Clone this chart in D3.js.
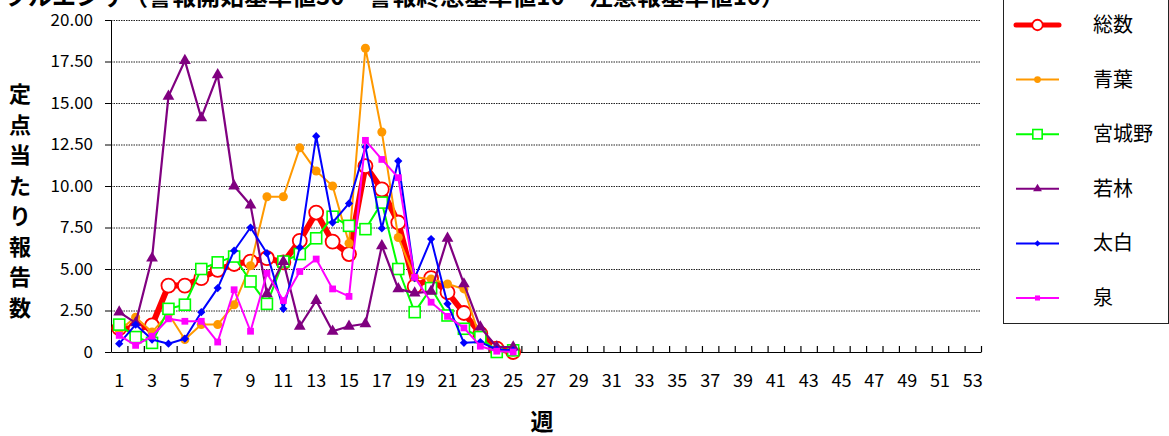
<!DOCTYPE html>
<html>
<head>
<meta charset="utf-8">
<script src="https://cdn.jsdelivr.net/npm/d3@7"></script>
<style>
body { margin: 0; background: #fff; }
svg { display: block; }
text { font-family: "Noto Sans CJK JP", "Noto Sans", sans-serif; fill: #000; }
</style>
</head>
<body>
<div id="graph"></div>
<script>
// weeks and tick labels
const weeks = d3.range(1, 54);
const weekLabels = weeks.filter(w => w % 2 == 1);
const yTicks = [0, 2.5, 5, 7.5, 10, 12.5, 15, 17.5, 20];

// values, weeks 1..25
const total    = [1.43, 1.4, 1.6, 4.0, 4.0, 4.45, 4.95, 5.3, 5.45, 5.65, 5.4, 6.7, 8.4, 6.65, 5.9, 11.2, 9.8, 7.8, 3.95, 4.45, 3.6, 2.35, 1.1, 0.2, 0.0];
const aoba     = [1.3, 2.1, 1.2, 2.3, 0.75, 1.65, 1.65, 2.85, 5.2, 9.35, 9.35, 12.3, 10.9, 10.0, 6.55, 18.3, 13.25, 6.9, 4.5, 4.4, 4.1, 3.8, 0.8, 0.1, 0.0];
const miyagino = [1.65, 0.9, 0.55, 2.6, 2.85, 5.0, 5.4, 5.75, 4.25, 2.9, 5.45, 5.9, 6.85, 8.15, 7.6, 7.4, 9.0, 5.0, 2.4, 3.85, 2.2, 1.4, 0.9, 0.0, 0.1];
const wakabayashi = [2.4, 1.75, 5.65, 15.4, 17.55, 14.1, 16.7, 10.0, 8.85, 3.5, 5.45, 1.55, 3.1, 1.25, 1.55, 1.7, 6.4, 3.8, 3.55, 3.65, 6.85, 4.1, 1.5, 0.3, 0.3];
const taihaku  = [0.5, 1.65, 0.75, 0.5, 0.8, 2.4, 3.85, 6.1, 7.5, 5.95, 2.6, 6.3, 13.0, 7.8, 8.95, 12.35, 7.45, 11.5, 4.45, 6.8, 2.9, 0.55, 0.6, 0.15, 0.1];
const izumi    = [1.0, 0.4, 0.95, 2.0, 1.85, 1.85, 0.6, 3.75, 1.25, 4.75, 3.1, 4.85, 5.6, 3.8, 3.35, 12.75, 11.6, 10.5, 4.5, 3.0, 2.15, 1.45, 0.35, 0.05, 0.0];

const names = ["総数", "青葉", "宮城野", "若林", "太白", "泉"];

/**
 * @namespace
 */
const chart = {};

chart.width = 1169;
chart.height = 436;
chart.left = 111;
chart.right = 981;
chart.top = 20;
chart.bottom = 352;

chart.series = [
    {name: names[0], values: total,       color: "#ff0000", lw: 6,   marker: "ring"},
    {name: names[1], values: aoba,        color: "#ff9900", lw: 2,   marker: "dot"},
    {name: names[2], values: miyagino,    color: "#00ff00", lw: 2,   marker: "box"},
    {name: names[3], values: wakabayashi, color: "#800080", lw: 2.2, marker: "tri"},
    {name: names[4], values: taihaku,     color: "#0000ff", lw: 2,   marker: "dia"},
    {name: names[5], values: izumi,       color: "#ff00ff", lw: 2,   marker: "sq"}
];

chart.drawMarker = function (g, s, x, y, small) {
    const k = small ? 0.75 : 1;
    if (s.marker == "ring") {
        g.append("circle").attr("cx", x).attr("cy", y).attr("r", 7 * k)
            .attr("fill", "#fff").attr("stroke", s.color).attr("stroke-width", 1.8);
    } else if (s.marker == "box") {
        const h = 5.5 * (small ? 0.85 : 1);
        g.append("rect").attr("x", x - h).attr("y", y - h).attr("width", h * 2).attr("height", h * 2)
            .attr("fill", "#fff").attr("stroke", s.color).attr("stroke-width", 1.6);
    } else {
        let type = d3.symbolCircle, size = 64, rot = 0;
        if (s.marker == "tri") { type = d3.symbolTriangle; size = 60; }
        if (s.marker == "dia") { type = d3.symbolSquare; size = 34; rot = 45; }
        if (s.marker == "sq")  { type = d3.symbolSquare; size = 46; }
        g.append("path")
            .attr("d", d3.symbol().type(type).size(size * k * k)())
            .attr("transform", "translate(" + x + "," + y + ") rotate(" + rot + ")")
            .attr("fill", s.color);
    }
}

chart.draw = function () {
    const svg = d3.select("#graph").append("svg")
        .attr("width", chart.width)
        .attr("height", chart.height);

    const x = d3.scaleBand().domain(weeks).range([chart.left, chart.right]);
    const xEdge = d3.scaleLinear().domain([0, 53]).range([chart.left, chart.right]);
    const y = d3.scaleLinear().domain([0, 20]).range([chart.bottom, chart.top]);
    const cx = w => x(w) + x.bandwidth() / 2;

    // title (cut off at the top of the picture)
    svg.append("text")
        .attr("x", 785).attr("y", 5)
        .attr("text-anchor", "end")
        .style("font-size", "24px").style("font-weight", "bold")
        .text("インフルエンザ（警報開始基準値30　警報終息基準値10　注意報基準値10）");

    // grid lines
    svg.append("g")
        .attr("transform", "translate(" + chart.left + ",0)")
        .call(d3.axisLeft(y).tickValues(yTicks.slice(1)).tickSize(-(chart.right - chart.left)).tickFormat(""))
        .call(g => g.select(".domain").remove())
        .selectAll("line")
        .attr("stroke", "#222")
        .attr("stroke-dasharray", "1.5,1");

    // y axis
    const yAxis = svg.append("g")
        .attr("transform", "translate(" + chart.left + ",0)")
        .call(d3.axisLeft(y).tickValues(yTicks).tickSize(6).tickSizeOuter(0)
            .tickFormat(d => d == 0 ? "0" : d.toFixed(2)));
    yAxis.selectAll("text").style("font-size", "17px").attr("x", -18);
    yAxis.selectAll("line, path").attr("stroke", "#000");

    // x axis: small ticks between weeks, labels on odd weeks
    const xTicks = svg.append("g")
        .attr("transform", "translate(0," + chart.bottom + ")")
        .call(d3.axisTop(xEdge).tickValues(d3.range(1, 54)).tickSize(6).tickSizeOuter(0).tickFormat(""));
    xTicks.selectAll("line, path").attr("stroke", "#000").attr("stroke-width", 1.2);

    const xAxis = svg.append("g")
        .attr("transform", "translate(0," + chart.bottom + ")")
        .call(d3.axisBottom(x).tickValues(weekLabels).tickSize(0).tickPadding(22));
    xAxis.select(".domain").remove();
    xAxis.selectAll("text").style("font-size", "18px");

    // axis titles
    const yTitle = "定点当たり報告数".split("");
    svg.append("g").selectAll("text")
        .data(yTitle)
        .join("text")
        .attr("x", 20)
        .attr("y", (d, i) => 102 + i * 30.5)
        .attr("text-anchor", "middle")
        .style("font-size", "22px").style("font-weight", "bold")
        .text(d => d);

    svg.append("text")
        .attr("x", 542).attr("y", 430)
        .attr("text-anchor", "middle")
        .style("font-size", "23px").style("font-weight", "bold")
        .text("週");

    // series
    const plot = svg.append("g");
    for (let s of chart.series) {
        const pts = s.values.map((v, i) => [cx(weeks[i]), y(v)]);
        const g = plot.append("g");
        g.append("path")
            .attr("d", d3.line()(pts))
            .attr("fill", "none")
            .attr("stroke", s.color)
            .attr("stroke-width", s.lw)
            .attr("stroke-linejoin", "round");
        for (let p of pts) {
            chart.drawMarker(g, s, p[0], p[1], false);
        }
    }

    // legend
    const lg = svg.append("g");
    lg.append("rect")
        .attr("x", 1003.5).attr("y", -5)
        .attr("width", 165).attr("height", 328.5)
        .attr("fill", "#fff").attr("stroke", "#222").attr("stroke-width", 1);
    chart.series.forEach((s, i) => {
        const ly = 25 + i * 54.6;
        lg.append("line")
            .attr("x1", 1016).attr("x2", 1059)
            .attr("y1", ly).attr("y2", ly)
            .attr("stroke", s.color)
            .attr("stroke-width", s.marker == "ring" ? 5 : 2)
            .attr("stroke-linecap", s.marker == "ring" ? "round" : "butt");
        chart.drawMarker(lg, s, 1037.5, ly, true);
        lg.append("text")
            .attr("x", 1093).attr("y", ly + 7)
            .style("font-size", "20px")
            .text(s.name);
    });
}

//Main Script
chart.draw();
</script>
</body>
</html>
